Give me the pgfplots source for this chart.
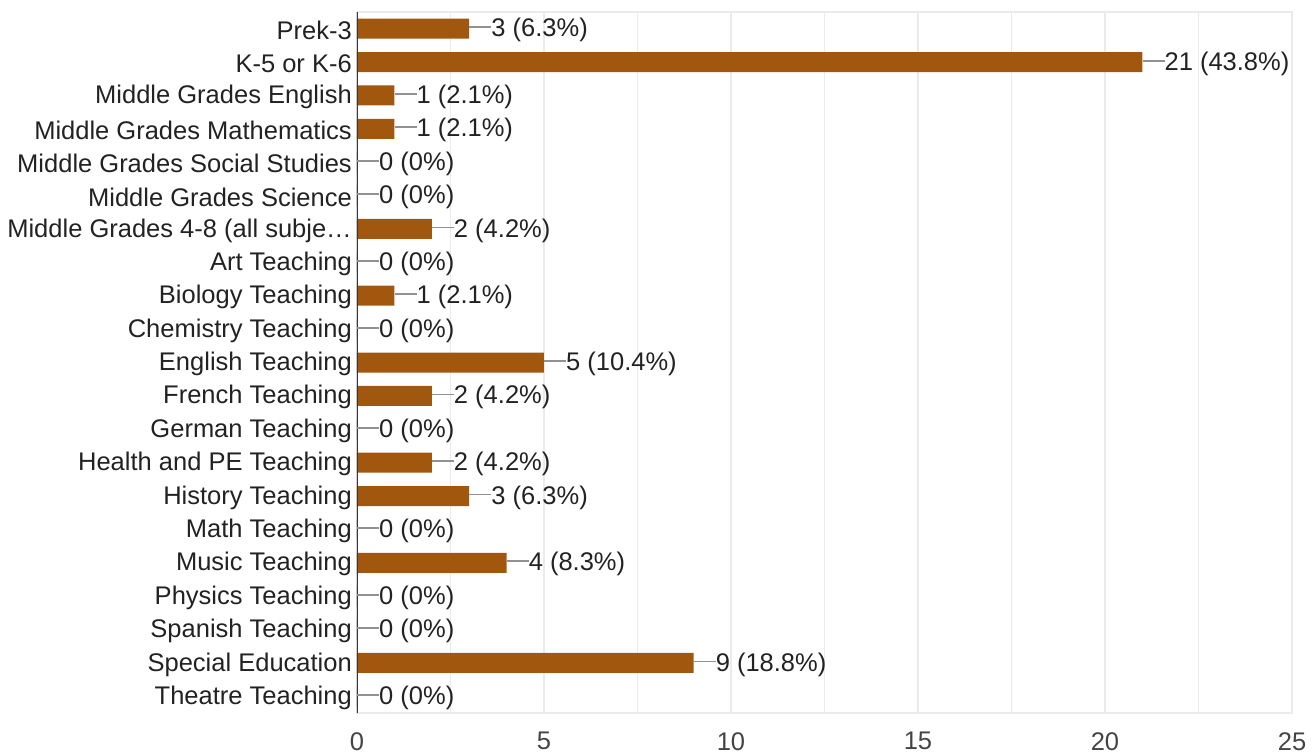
\documentclass[border=0pt]{standalone}
\usepackage{pgfplots}
\pgfplotsset{compat=1.18}
\usepackage{fontspec}
\setmainfont{Liberation Sans}
\definecolor{barbrown}{RGB}{161,87,14}
\definecolor{gridgray}{RGB}{235,235,235}
\definecolor{axisdark}{RGB}{55,55,55}
\definecolor{labeldark}{RGB}{34,34,34}
\definecolor{ticknum}{RGB}{68,68,68}
\definecolor{leader}{RGB}{145,145,145}
\begin{document}
\begin{tikzpicture}
\path[use as bounding box] (-357bp,-40bp) rectangle (959bp,713bp);
\begin{axis}[
  scale only axis,
  width=935bp, height=701bp,
  xbar, bar width=20bp,
  xmin=0, xmax=25,
  ymin=-0.5, ymax=20.5,
  y dir=reverse,
  xtick={0,5,10,15,20,25},
  minor x tick num=1,
  xmajorgrids, xminorgrids,
  major grid style={gridgray, line width=1.2bp},
  minor grid style={gridgray, line width=1.2bp},
  axis line style={gridgray, line width=1.2bp},
  major tick length=0pt, minor tick length=0pt,
  ytick={0,...,20},
  yticklabels={{Prek-3},{K-5 or K-6},{Middle Grades English},{Middle Grades Mathematics},{Middle Grades Social Studies},{Middle Grades Science},{Middle Grades 4-8 (all subje…},{Art Teaching},{Biology Teaching},{Chemistry Teaching},{English Teaching},{French Teaching},{German Teaching},{Health and PE Teaching},{History Teaching},{Math Teaching},{Music Teaching},{Physics Teaching},{Spanish Teaching},{Special Education},{Theatre Teaching}},
  yticklabel style={font=\fontsize{25.6}{28}\selectfont, text=labeldark, inner sep=0pt, xshift=-5bp, yshift=-1.5bp},
  xticklabel style={font=\fontsize{25.6}{28}\selectfont, text=ticknum, inner sep=0pt, yshift=-19bp},
  /pgf/number format/assume math mode=true,
  point meta=explicit symbolic,
  nodes near coords={\textcolor{leader}{\rule[0.34em]{22bp}{1.8bp}}\pgfplotspointmeta},
  every node near coord/.append style={font=\fontsize{25.6}{28}\selectfont, text=labeldark, inner sep=0pt, anchor=west, yshift=-1.5bp},
]
\addplot[fill=barbrown, draw=none] coordinates {
  (3,0) [3 (6.3\%)]
  (21,1) [21 (43.8\%)]
  (1,2) [1 (2.1\%)]
  (1,3) [1 (2.1\%)]
  (0,4) [0 (0\%)]
  (0,5) [0 (0\%)]
  (2,6) [2 (4.2\%)]
  (0,7) [0 (0\%)]
  (1,8) [1 (2.1\%)]
  (0,9) [0 (0\%)]
  (5,10) [5 (10.4\%)]
  (2,11) [2 (4.2\%)]
  (0,12) [0 (0\%)]
  (2,13) [2 (4.2\%)]
  (3,14) [3 (6.3\%)]
  (0,15) [0 (0\%)]
  (4,16) [4 (8.3\%)]
  (0,17) [0 (0\%)]
  (0,18) [0 (0\%)]
  (9,19) [9 (18.8\%)]
  (0,20) [0 (0\%)]
};
\draw[axisdark, line width=2bp] (rel axis cs:0,0) -- (rel axis cs:0,1);
\end{axis}
\end{tikzpicture}
\end{document}
